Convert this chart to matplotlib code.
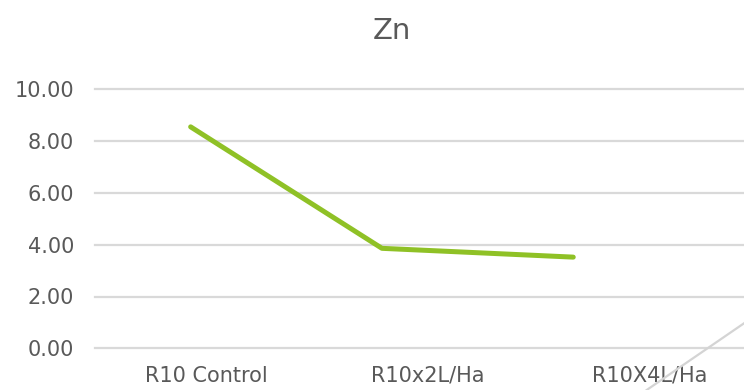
import matplotlib.pyplot as plt
from matplotlib.lines import Line2D

categories = ['R10 Control', 'R10x2L/Ha', 'R10X4L/Ha']
zn_values = [8.55, 3.86, 3.52]
y_ticks = [0, 2, 4, 6, 8, 10]

text_color = '#595959'
grid_color = '#d9d9d9'
line_color = '#8fc126'

W, H = 744, 390
fig = plt.figure(figsize=(W / 100, H / 100), dpi=100)

# plot area in pixels: left 95, right edge of figure, 0 at y=348, 10 at y=89
left, right, y0, y10 = 95, 744, 348.3, 89.3
ax = fig.add_axes([left / W, (H - y0) / H, (right - left) / W, (y0 - y10) / H])

# category axis carries the labels (wide slots)
label_slot, line_slot = 222, 191.3
ax.set_xlim(-0.5, -0.5 + (right - left) / label_slot)
ax.set_xticks(range(len(categories)))
ax.set_xticklabels(categories)
ax.set_ylim(0, 10)
ax.set_yticks(y_ticks)
ax.set_yticklabels([f'{v:.2f}' for v in y_ticks])
ax.yaxis.grid(True, color=grid_color, linewidth=1.6)
for gl in ax.get_ygridlines():
    gl.set_clip_on(False)
ax.set_axisbelow(True)
ax.tick_params(length=0, labelsize=15, colors=text_color)
ax.tick_params(axis='y', pad=15)
ax.tick_params(axis='x', pad=12.5)
for s in ax.spines.values():
    s.set_visible(False)

# the line series sits on its own category scale
ax2 = ax.twiny()
ax2.set_xlim(-0.5, -0.5 + (right - left) / line_slot)
ax2.set_ylim(0, 10)
ax2.plot(range(len(zn_values)), zn_values, color=line_color, linewidth=3.6,
         solid_capstyle='round', solid_joinstyle='round')
ax2.set_xticks([])
for s in ax2.spines.values():
    s.set_visible(False)

# stray connector line at the lower right
fig.add_artist(Line2D([646.7 / W, 1.0], [0.0, (H - 323.3) / H],
                      color='#d4d4d4', linewidth=1.6, transform=fig.transFigure))

fig.text(392 / W, 1 - 31 / H, 'Zn', ha='center', va='center',
         fontsize=21, color=text_color)

fig.savefig('out.png', dpi=100)
